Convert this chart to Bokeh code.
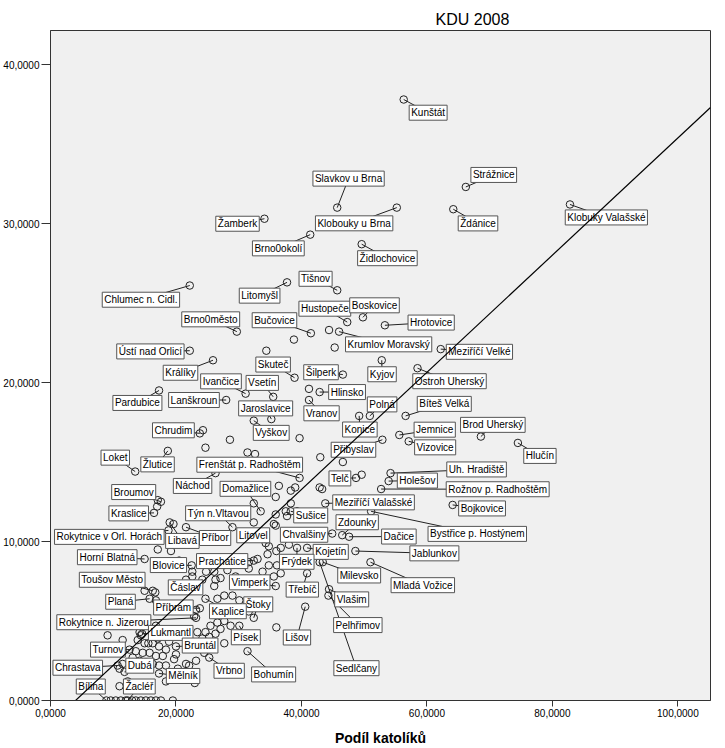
from bokeh.plotting import figure
from bokeh.models import Range1d, FixedTicker, ColumnDataSource
from bokeh.core.properties import value
from bokeh.embed import file_html
from bokeh.resources import INLINE

# ---------------- data ----------------
title_text = "KDU 2008"
x_label = "Podíl katolíků"
x_ticks = [0, 20, 40, 60, 80, 100]
x_tick_labels = ["0,0000", "20,0000", "40,0000", "60,0000", "80,0000", "100,0000"]
y_ticks = [0, 10, 20, 30, 40]
y_tick_labels = ["0,0000", "10,0000", "20,0000", "30,0000", "40,0000"]

# labelled municipalities: name, share of Catholics (x), KDU vote (y)
names = [
    "Kunštát", "Strážnice", "Slavkov u Brna", "Klobouky u Brna", "Ždánice", "Klobuky Valašské",
    "Žamberk", "Brno0okolí", "Židlochovice", "Tišnov", "Litomyšl", "Chlumec n. Cidl.",
    "Hustopeče", "Boskovice", "Brno0město", "Bučovice", "Hrotovice", "Krumlov Moravský",
    "Ústí nad Orlicí", "Meziříčí Velké", "Králíky", "Kyjov", "Skuteč", "Ivančice",
    "Šilperk", "Ostroh Uherský", "Vsetín", "Hlinsko", "Pardubice", "Lanškroun",
    "Jaroslavice", "Vranov", "Polná", "Bíteš Velká", "Konice", "Vyškov",
    "Chrudim", "Jemnice", "Brod Uherský", "Přibyslav", "Vizovice", "Hlučín",
    "Loket", "Žlutice", "Frenštát p. Radhoštěm", "Telč", "Uh. Hradiště", "Holešov",
    "Rožnov p. Radhoštěm", "Náchod", "Domažlice", "Broumov", "Kraslice", "Týn n.Vltavou",
    "Meziříčí Valašské", "Bojkovice", "Sušice", "Zdounky", "Bystřice p. Hostýnem",
    "Rokytnice v Orl. Horách", "Libavá", "Příbor", "Litovel", "Chvalšiny", "Dačice",
    "Kojetín", "Jablunkov", "Frýdek", "Milevsko", "Sedlčany", "Mladá Vožice", "Třebíč",
    "Vlašim", "Pelhřimov", "Horní Blatná", "Blovice", "Prachatice", "Toušov Město",
    "Čáslav", "Vimperk", "Štoky", "Planá", "Příbram", "Kaplice", "Rokytnice n. Jizerou",
    "Lukmantl", "Písek", "Bruntál", "Vrbno", "Mělník", "Turnov", "Chrastava", "Dubá",
    "Bílina", "Žacléř", "Bohumín", "Lišov",
]
kat = [
    56.3, 66.2, 45.7, 55.2, 64.2, 82.8,
    34.1, 41.4, 49.6, 45.7, 37.7, 22.2,
    47.3, 49.8, 29.7, 41.5, 53.3, 46.0,
    22.2, 62.2, 25.9, 52.8, 38.9, 31.1,
    46.6, 58.5, 35.5, 42.9, 17.3, 28.0,
    35.2, 41.2, 50.9, 56.6, 49.2, 32.4,
    23.8, 55.6, 68.6, 52.9, 57.1, 74.5,
    13.5, 18.7, 39.7, 48.7, 54.2, 53.9,
    52.7, 26.3, 33.5, 17.6, 16.5, 29.0,
    43.8, 64.1, 38.3, 46.5, 51.1,
    18.8, 19.0, 21.6, 34.3, 44.9, 47.6,
    40.9, 48.6, 39.3, 43.4, 42.9, 51.0, 40.9,
    44.4, 44.3, 15.0, 22.5, 32.4, 16.3,
    24.2, 35.9, 32.4, 15.8, 23.8, 24.7, 23.2,
    14.6, 30.1, 20.0, 25.3, 17.3, 12.6, 10.7, 11.8,
    8.9, 12.3, 31.4, 40.6,
]
kdu = [
    37.8, 32.3, 31.0, 31.0, 30.9, 31.2,
    30.3, 29.3, 28.7, 25.8, 26.3, 26.1,
    23.8, 24.1, 23.2, 23.1, 23.6, 23.2,
    22.0, 22.1, 21.4, 21.4, 20.3, 19.3,
    20.5, 20.9, 19.1, 19.4, 19.5, 18.9,
    17.7, 18.9, 17.9, 17.9, 17.9, 17.6,
    16.8, 16.7, 16.6, 16.4, 16.3, 16.2,
    14.4, 15.7, 14.0, 14.0, 14.3, 13.8,
    13.3, 14.3, 11.9, 12.5, 11.8, 10.9,
    12.4, 12.3, 11.9, 10.4, 11.9,
    10.7, 11.2, 10.9, 9.9, 10.5, 10.3,
    9.6, 9.4, 9.6, 8.7, 8.7, 8.7, 8.0,
    7.0, 6.6, 8.9, 8.5, 8.8, 6.9,
    7.6, 7.2, 5.2, 6.4, 5.8, 6.4, 5.2,
    4.2, 4.7, 3.4, 2.7, 1.7, 3.2, 2.2, 1.8,
    0.0, 0.0, 3.1, 5.9,
]

# other (unlabelled) municipalities
other_kat = [
    24.3, 28.6, 24.7, 44.4, 38.8, 45.3, 34.4, 41.2, 39.7, 43.0, 46.6, 49.6, 36.4, 39.0,
    38.3, 42.9, 43.3, 32.6, 31.4, 32.4, 35.9, 35.6, 38.3, 37.5, 35.9, 37.7, 39.3, 35.9,
    32.4, 36.7, 38.0, 34.8, 36.0, 31.6, 34.8, 33.8, 36.1, 35.6, 36.7, 33.8, 29.5, 28.2,
    26.1, 22.6, 21.6, 26.3, 29.0, 27.7, 26.1, 26.6, 22.9, 26.6, 27.7, 28.7, 25.5, 24.7,
    23.4, 24.2, 31.6, 29.5, 36.0, 23.2, 22.1, 27.7, 33.0, 31.6, 34.6, 30.1, 27.1, 26.3,
    27.1, 25.3, 24.5, 21.6, 23.0, 19.5, 19.6, 24.8, 20.0, 18.4, 18.9, 17.0, 17.1, 17.1,
    19.2, 20.5, 22.6, 16.8, 15.0, 16.7, 23.2, 16.8, 14.2, 9.1, 11.5, 14.4, 13.9, 15.0,
    15.6, 16.3, 17.3, 13.6, 14.7, 15.8, 16.8, 17.9, 13.1, 14.2, 15.2, 11.5, 11.0, 16.3,
    17.3, 18.4, 19.7, 20.3, 18.4, 12.3, 11.0, 12.8, 17.1,
    9.6, 10.4, 11.2, 12.0, 13.0, 13.6, 14.4, 15.2, 16.0, 16.8, 17.6,
]
other_kdu = [
    17.0, 16.4, 15.9, 23.3, 22.7, 22.2, 22.0, 19.6, 16.5, 15.3, 15.0, 14.2, 13.5, 13.4,
    13.2, 13.4, 13.3, 15.5, 15.6, 12.4, 11.7, 11.1, 12.4, 11.9, 12.8, 11.6, 11.9, 11.0,
    11.2, 9.6, 9.8, 9.7, 9.4, 8.3, 8.5, 8.1, 8.5, 7.8, 8.0, 7.5, 7.8, 8.2,
    8.1, 7.8, 7.6, 7.6, 6.6, 6.6, 7.2, 6.4, 5.3, 4.9, 5.0, 4.7, 4.7, 4.3,
    4.3, 3.9, 5.6, 5.4, 4.6, 2.5, 2.2, 3.6, 8.9, 8.7, 9.2, 6.3, 7.7, 4.2,
    4.5, 4.0, 3.0, 2.3, 1.1, 0.0, 11.1, 8.1, 2.9, 3.2, 3.7, 12.2, 12.6, 9.5,
    9.4, 8.8, 8.1, 6.3, 6.9, 6.8, 5.7, 4.7, 4.3, 4.1, 3.8, 4.1, 3.8, 3.6,
    3.6, 3.6, 3.4, 3.1, 3.0, 3.0, 2.8, 2.8, 2.7, 2.5, 2.4, 2.3, 2.0, 2.3,
    2.2, 2.2, 2.6, 2.0, 1.2, 1.2, 0.9, 4.7, 3.9,
    0.0, 0.0, 0.0, 0.0, 0.0, 0.0, 0.0, 0.0, 0.0, 0.0, 0.0,
]

# linear fit line (y = intercept + slope * x)
fit_slope = 0.3685
fit_intercept = -1.47

# ---------------- layout (label placement, pixels: right / down) ----------------
lab_dx = [
    24.5, 28, 11.4, -42.8, 24.8, 36.5,
    -27, -32, 25.8, -21.7, -27.5, -49,
    -22.5, 11.6, -26.2, -36.5, 46.4, 49.7,
    -39.5, 38.8, -32.6, 0.3, -21.5, -24.7,
    -21.9, 32.1, -11, 27.5, -21.7, -32.3,
    -5.7, 12.6, 12.3, 38.8, 0.7, 17.5,
    -26.5, 35.5, 12, -29, 26.5, 22.1,
    -20, -10.3, -50, -16.2, 86.3, 28.8,
    116.9, -23, -15.3, -27.3, -25.4, -14.3,
    48.4, 29.5, 20, 15, 106.5,
    -59.3, 12.7, 29.2, -12.5, -28.2, 49.9,
    23.7, 79.2, -0.3, 36.5, 36.9, 52.5, -4.8,
    22.7, 29.5, -37.5, -23.3, -31.7, -40.7,
    -16.8, -26.1, 4.5, -29.2, -26.5, 22.5, -92.5,
    28.7, 6.5, 24.2, 20, 24.1, -21.7, -40, 15.3,
    -15.6, 11.7, 26.2, -8.3,
]
lab_dy = [
    13.2, -12, -29, 15.7, 14.2, 13,
    5, 13.7, 14, -11.5, 13.3, 14.2,
    -13.4, -12, -12.3, -13, -2.7, 12.7,
    0.7, 2.7, 12.5, 14, -13.2, -12.3,
    -2.3, 13, -13.9, 0, 12.5, 0,
    -10.7, 13.3, -11.5, -12, 13.6, 12.2,
    -3.1, -5.3, -11.7, 10, 6, 13,
    -13.9, 13.5, -13.2, 0.5, -3.7, -0.5,
    0.2, 12.8, -22.5, -9.7, 0.5, -13.9,
    -1, 3.5, 4.1, -12.9, 22.6,
    6.5, 18.5, 10.8, -7.8, 1.2, -0.2,
    4, 2.3, 13.9, 13.3, 106, 23, 16.3,
    10.2, 29.5, -1.8, -0.3, 0.5, -11,
    7.7, -3.7, -13.5, 3, -0.8, 12.5, 4.4,
    -0.8, 11.5, -0.9, 13.2, 2.5, 0, 2.2, -6.2,
    -14, -14, 23.2, 30.8,
]

# ---------------- figure ----------------
X_MAX, Y_MAX = 105.2, 42.14
W, H = 725, 748
ML, MR, MT, MB = 48, 15, 30, 48
FW, FH = W - ML - MR, H - MT - MB
sx, sy = FW / X_MAX, FH / Y_MAX

FONT = "Liberation Sans"

p = figure(
    width=W, height=H,
    x_range=Range1d(0, X_MAX), y_range=Range1d(0, Y_MAX),
    output_backend="svg", toolbar_location=None,
    min_border_left=ML, min_border_right=MR, min_border_top=MT, min_border_bottom=MB,
    background_fill_color="#f0f0f0", border_fill_color="white",
    outline_line_color="#333333", outline_line_width=1,
)

p.title.text = title_text
p.title.align = "left"
p.title.offset = 385
p.title.standoff = 6
p.title.text_font = FONT
p.title.text_font_size = "16px"
p.title.text_font_style = "normal"
p.title.text_color = "black"

p.xgrid.grid_line_color = None
p.ygrid.grid_line_color = None

for ax in (p.xaxis[0], p.yaxis[0]):
    ax.axis_line_color = "#333333"
    ax.major_tick_line_color = "#333333"
    ax.minor_tick_line_color = None
    ax.major_tick_in = 0
    ax.major_label_text_font = FONT
    ax.major_label_text_font_size = "10px"
    ax.major_label_text_color = "black"
    ax.major_label_standoff = 2

p.xaxis.ticker = FixedTicker(ticks=x_ticks)
p.xaxis.major_label_overrides = {t: l for t, l in zip(x_ticks, x_tick_labels)}
p.yaxis.ticker = FixedTicker(ticks=y_ticks)
p.yaxis.major_label_overrides = {t: l for t, l in zip(y_ticks, y_tick_labels)}
p.xaxis.major_tick_out = 6
p.yaxis.major_tick_out = 9

p.xaxis.axis_label = x_label
p.xaxis.axis_label_text_font = FONT
p.xaxis.axis_label_text_font_size = "14px"
p.xaxis.axis_label_text_font_style = "bold"
p.xaxis.axis_label_text_color = "black"
p.xaxis.axis_label_standoff = 10

lab_x = [x + dx / sx for x, dx in zip(kat, lab_dx)]
lab_y = [y - dy / sy for y, dy in zip(kdu, lab_dy)]
src = ColumnDataSource(dict(x=kat, y=kdu, lx=lab_x, ly=lab_y, name=names))

# leader lines
p.segment(x0="x", y0="y", x1="lx", y1="ly", source=src, line_color="#222222", line_width=1)

# points
p.scatter(other_kat, other_kdu, marker="circle", size=7.5, fill_color=None,
          line_color="#222222", line_width=1)
p.scatter("x", "y", source=src, marker="circle", size=7.5, fill_color=None,
          line_color="#222222", line_width=1)

# labels
p.text(x="lx", y="ly", text="name", source=src,
       text_align="center", text_baseline="middle",
       text_font=value(FONT), text_font_size="10px", text_color="black",
       background_fill_color="white", border_line_color="#555555",
       border_line_width=1, padding=2)

# fit line
fx = [0, X_MAX]
fy = [fit_intercept + fit_slope * v for v in fx]
p.line(fx, fy, line_color="black", line_width=1.2)

open("out.html", "w").write(file_html(p, INLINE))
